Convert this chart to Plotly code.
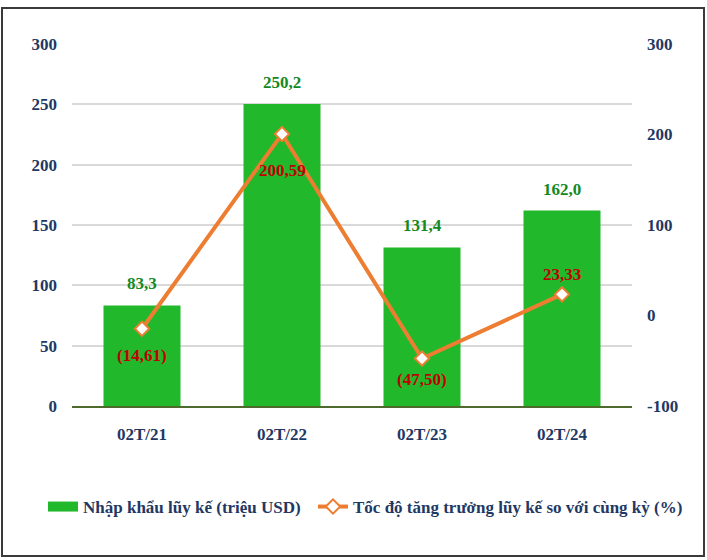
import plotly.graph_objects as go

categories = ["02T/21", "02T/22", "02T/23", "02T/24"]
import_values = [83.3, 250.2, 131.4, 162.0]
growth_values = [-14.61, 200.59, -47.50, 23.33]
left_ticks = [0, 50, 100, 150, 200, 250, 300]
right_ticks = [-100, 0, 100, 200, 300]
right_tick_labels = ["-100", "0", "100", "200", "300"]
bar_name = "Nhập khẩu lũy kế (triệu USD)"
line_name = "Tốc độ tăng trưởng lũy kế so với cùng kỳ (%)"

def fmt(v, d):
    s = f"{abs(v):.{d}f}".replace(".", ",")
    return f"({s})" if v < 0 else s

FONT = "Liberation Serif, Times New Roman, serif"
NAVY = "#1f3864"
BAR_COLOR = "#22b82b"
LINE_COLOR = "#ed7d31"
BAR_LABEL = "#128a1f"
LINE_LABEL = "#c00000"

L, R, T, B = 72, 75, 44, 154
W, H = 707, 560
PW, PH = W - L - R, H - T - B

fig = go.Figure()
fig.add_trace(go.Bar(
    x=categories, y=import_values, name=bar_name,
    marker=dict(color=BAR_COLOR, line=dict(width=0)),
    yaxis="y", showlegend=False,
))
# legend entry for the bars (wide rectangle symbol)
fig.add_trace(go.Scatter(
    x=[None], y=[None], name=bar_name, mode="lines",
    line=dict(color=BAR_COLOR, width=11), yaxis="y", legend="legend",
))
fig.add_trace(go.Scatter(
    x=categories, y=growth_values, name=line_name,
    mode="lines+markers",
    line=dict(color=LINE_COLOR, width=4),
    marker=dict(symbol="diamond", size=11, color="white",
                line=dict(color=LINE_COLOR, width=2)),
    yaxis="y2", legend="legend2",
))

annotations = []
for c, v in zip(categories, import_values):
    annotations.append(dict(
        x=c, y=v, xref="x", yref="y", text=fmt(v, 1), showarrow=False,
        yanchor="bottom", yshift=10,
        font=dict(family=FONT, size=17, color=BAR_LABEL, weight="bold"),
    ))
line_shifts = [-27, -37, -21, 20]
for c, v, s in zip(categories, growth_values, line_shifts):
    annotations.append(dict(
        x=c, y=v, xref="x", yref="y2", text=fmt(v, 2), showarrow=False,
        yanchor="middle", yshift=s,
        font=dict(family=FONT, size=17, color=LINE_LABEL, weight="bold"),
    ))

tickfont = dict(family=FONT, size=17, color=NAVY, weight="bold")
legfont = dict(family=FONT, size=17, color=NAVY, weight="bold")

def leg(x_px):
    return dict(orientation="h", xref="container", yref="container",
                x=x_px / W, xanchor="left", y=(H - 507) / H, yanchor="middle",
                font=legfont, itemwidth=30, bgcolor="rgba(0,0,0,0)")

fig.update_layout(
    width=W, height=H,
    margin=dict(l=L, r=R, t=T, b=B, autoexpand=False),
    paper_bgcolor="white", plot_bgcolor="white",
    font=dict(family=FONT, size=17, color=NAVY, weight="bold"),
    bargap=0.45,
    showlegend=True,
    legend=leg(43),
    legend2=leg(313),
    xaxis=dict(showgrid=False, showline=True, linecolor="#4e6b2e", linewidth=2,
               ticks="", tickfont=tickfont, ticklabelstandoff=12, automargin=False),
    yaxis=dict(range=[0, 300], tickvals=left_ticks, showgrid=True, gridcolor="#d9d9d9",
               gridwidth=1.5, zeroline=False, showline=False, ticks="",
               tickfont=tickfont, ticklabelstandoff=14, automargin=False),
    yaxis2=dict(range=[-100, 300], tickvals=right_ticks, ticktext=right_tick_labels,
                overlaying="y", side="right",
                showgrid=False, zeroline=False, showline=False, ticks="",
                tickfont=tickfont, ticklabelstandoff=14, automargin=False),
    annotations=annotations,
    shapes=[dict(type="rect", xref="paper", yref="paper",
                 x0=(2 - L) / PW, x1=(704 - L) / PW,
                 y0=(H - B - 556) / PH, y1=(H - B - 8) / PH,
                 line=dict(color="#3a3a3a", width=2), fillcolor="rgba(0,0,0,0)",
                 layer="below")],
)

fig.write_html("out.html", config={"displayModeBar": False},
               post_script="document.body.style.margin='0';")
